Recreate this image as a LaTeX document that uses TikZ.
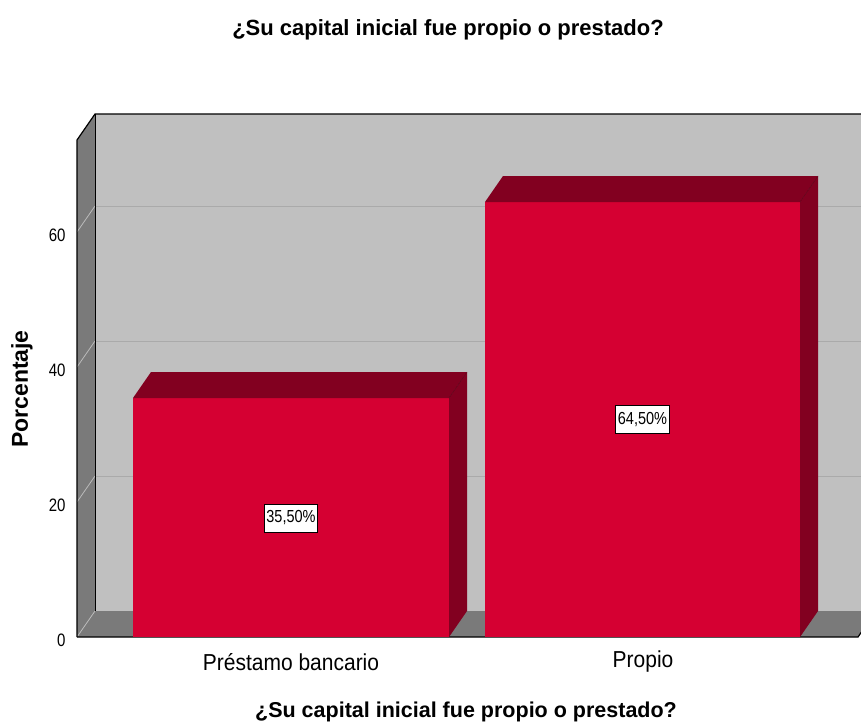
\documentclass[tikz,border=0pt]{standalone}
\usepackage{fontspec}
\setmainfont{Liberation Sans}
\definecolor{wallback}{RGB}{192,192,192}
\definecolor{wallside}{RGB}{122,122,122}
\definecolor{gridc}{RGB}{170,170,170}
\definecolor{barfront}{RGB}{213,0,50}
\definecolor{bardark}{RGB}{130,0,32}
\newcommand{\tallA}[1]{\scalebox{1}[1.2]{#1}}
\newcommand{\tallB}[1]{\scalebox{1}[1.1]{#1}}
\begin{document}
\begin{tikzpicture}[x=1pt,y=-1pt,
  titlefont/.style={font=\fontsize{22}{26}\bfseries\selectfont},
  catfont/.style={font=\fontsize{21}{25}\selectfont},
  tickfont/.style={font=\fontsize{15}{18}\selectfont, anchor=east},
  valbox/.style={draw=black, line width=0.9pt, fill=white, inner xsep=2pt, inner ysep=0pt, minimum height=28pt, font=\fontsize{14.5}{17}\selectfont},
  gridline/.style={draw=gridc, line width=1pt},
  edge/.style={draw=black, line width=1.2pt}]
\useasboundingbox (0,0) rectangle (861,726);
\begin{scope}
\clip (0,0) rectangle (861,726);
% back wall
\fill[wallback] (95,114) rectangle (880,611);
% grid lines on back wall
\foreach \v in {20,40,60}{
  \pgfmathsetmacro{\yb}{611-6.75*\v}
  \draw[gridline] (95,\yb) -- (880,\yb);
}
% floor
\fill[wallside] (77,637) -- (95,611) -- (876,611) -- (858,637) -- cycle;
% side wall
\fill[wallside] (77,140) -- (95,114) -- (95,611) -- (77,637) -- cycle;
\foreach \v in {0,20,40,60}{
  \pgfmathsetmacro{\yb}{611-6.75*\v}
  \pgfmathsetmacro{\yf}{637-6.75*\v}
  \draw[draw=gridc!80!white, line width=0.8pt] (95,\yb) -- (77,\yf);
}
% edges
\draw[edge] (77,637) -- (77,140) -- (95,114) -- (880,114);
\draw[draw=black, line width=1pt] (95,114) -- (95,611);
\draw[edge] (77,637) -- (858,637) -- (876,611);
\end{scope}
% bar 1
\fill[barfront] (133,398) rectangle (449,637);
\fill[bardark] (133,398) -- (151,372) -- (467,372) -- (449,398) -- cycle;
\fill[bardark] (449,398) -- (467,372) -- (467,611) -- (449,637) -- cycle;
\draw[draw=bardark!70!black, line width=0.4pt] (449,398) -- (467,372);
% bar 2
\fill[barfront] (485,202) rectangle (800,637);
\fill[bardark] (485,202) -- (503,176) -- (818,176) -- (800,202) -- cycle;
\fill[bardark] (800,202) -- (818,176) -- (818,611) -- (800,637) -- cycle;
\draw[draw=bardark!70!black, line width=0.4pt] (800,202) -- (818,176);
% value labels
\node[valbox] (v1) at (291,518) {\tallA{35,50\%}};
\node[valbox] (v2) at (642.5,419.5) {\tallA{64,50\%}};
% tick labels
\node[tickfont] (t0) at (69,640) {\tallA{0}};
\node[tickfont] (t20) at (69,505) {\tallA{20}};
\node[tickfont] (t40) at (69,370) {\tallA{40}};
\node[tickfont] (t60) at (69,235) {\tallA{60}};
% category labels
\node[catfont] (c1) at (291,662) {\tallB{Préstamo bancario}};
\node[catfont] (c2) at (643,662) {\tallB{Propio}};
% titles
\node[titlefont] (title) at (448,30) {¿Su capital inicial fue propio o prestado?};
\node[titlefont, font=\fontsize{21.5}{26}\bfseries\selectfont] (xtitle) at (466,712) {¿Su capital inicial fue propio o prestado?};
\node[font=\fontsize{23}{27}\bfseries\selectfont, rotate=90] (ytitle) at (22,389) {Porcentaje};
\end{tikzpicture}
\end{document}
